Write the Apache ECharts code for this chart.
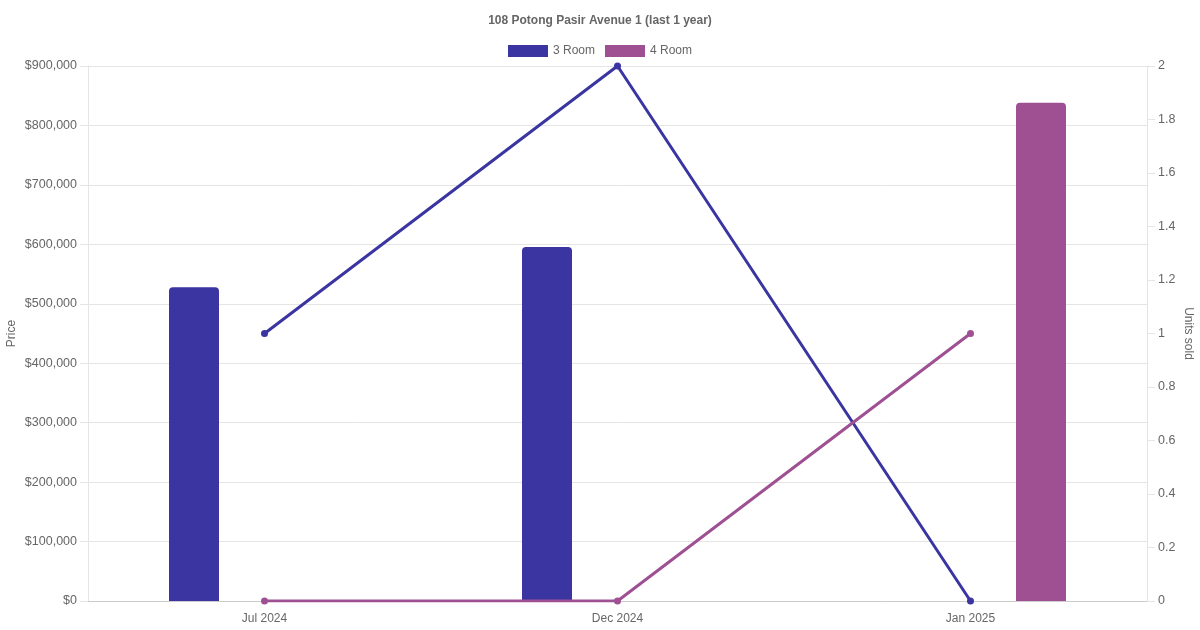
<!DOCTYPE html>
<html><head><meta charset="utf-8">
<script src="https://cdn.jsdelivr.net/npm/echarts@6/dist/echarts.min.js"></script>
<style>html,body{margin:0;padding:0;background:#fff}#c{width:1200px;height:630px}</style>
</head><body><div id="c"></div>
<script>
const categories = ['Jul 2024', 'Dec 2024', 'Jan 2025'];
const price3Room = [528000, 595500, null];
const price4Room = [null, null, 838000];
const units3Room = [1, 2, 0];
const units4Room = [0, 0, 1];
const c3 = '#3a35a0', c4 = '#9e5093';
const txt = '#666', gridC = '#e5e5e5';
const font = 'Liberation Sans, Arial, Helvetica, sans-serif';
const chart = echarts.init(document.getElementById('c'), null, {renderer: 'canvas'});
chart.setOption({
  animation: false,
  textStyle: {fontFamily: font},
  title: {text: '108 Potong Pasir Avenue 1 (last 1 year)', left: 'center', top: 10,
    textStyle: {fontSize: 12, fontWeight: 'bold', color: txt, fontFamily: font}},
  legend: {top: 40, left: 'center', itemWidth: 40, itemHeight: 12, itemGap: 10,
    icon: 'rect', textStyle: {fontSize: 12, color: txt, fontFamily: font},
    data: ['3 Room', '4 Room']},
  grid: {left: 88, right: 53, top: 66, bottom: 29, containLabel: false, outerBoundsMode: 'none'},
  xAxis: {type: 'category', data: categories, boundaryGap: true,
    axisLine: {show: true, lineStyle: {color: '#ccc'}}, axisTick: {show: false},
    axisLabel: {color: txt, fontSize: 12, margin: 12, fontFamily: font}},
  yAxis: [
    {type: 'value', min: 0, max: 900000, interval: 100000, name: 'Price',
     nameLocation: 'middle', nameGap: 70, nameRotate: 90, nameMoveOverlap: false,
     nameTextStyle: {color: txt, fontSize: 12, fontFamily: font},
     axisLine: {show: true, lineStyle: {color: gridC}},
     axisTick: {show: true, length: 8, lineStyle: {color: gridC}},
     splitLine: {show: true, lineStyle: {color: gridC}},
     axisLabel: {color: txt, fontSize: 12.5, margin: 11, fontFamily: font,
       formatter: v => '$' + v.toLocaleString('en-US')}},
    {type: 'value', min: 0, max: 2, interval: 0.2, name: 'Units sold',
     nameLocation: 'middle', nameGap: 35, nameRotate: -90, nameMoveOverlap: false,
     nameTextStyle: {color: txt, fontSize: 12, fontFamily: font},
     axisLine: {show: true, lineStyle: {color: gridC}},
     axisTick: {show: true, length: 8, lineStyle: {color: gridC}},
     splitLine: {show: false},
     axisLabel: {color: txt, fontSize: 12.5, margin: 11, fontFamily: font,
       formatter: v => String(Math.round(v * 10) / 10)}}
  ],
  series: [
    {name: '3 Room', type: 'bar', yAxisIndex: 0, data: price3Room, barWidth: 50, barGap: '182%',
     itemStyle: {color: c3, borderRadius: [4, 4, 0, 0]}, z: 2},
    {name: '4 Room', type: 'bar', yAxisIndex: 0, data: price4Room, barWidth: 50, barGap: '182%',
     itemStyle: {color: c4, borderRadius: [4, 4, 0, 0]}, z: 2},
    {name: '3 Room', type: 'line', yAxisIndex: 1, data: units3Room, symbol: 'circle', symbolSize: 7,
     lineStyle: {color: c3, width: 3}, itemStyle: {color: c3}, z: 5},
    {name: '4 Room', type: 'line', yAxisIndex: 1, data: units4Room, symbol: 'circle', symbolSize: 7,
     lineStyle: {color: c4, width: 3}, itemStyle: {color: c4}, z: 5}
  ]
});
</script></body></html>
